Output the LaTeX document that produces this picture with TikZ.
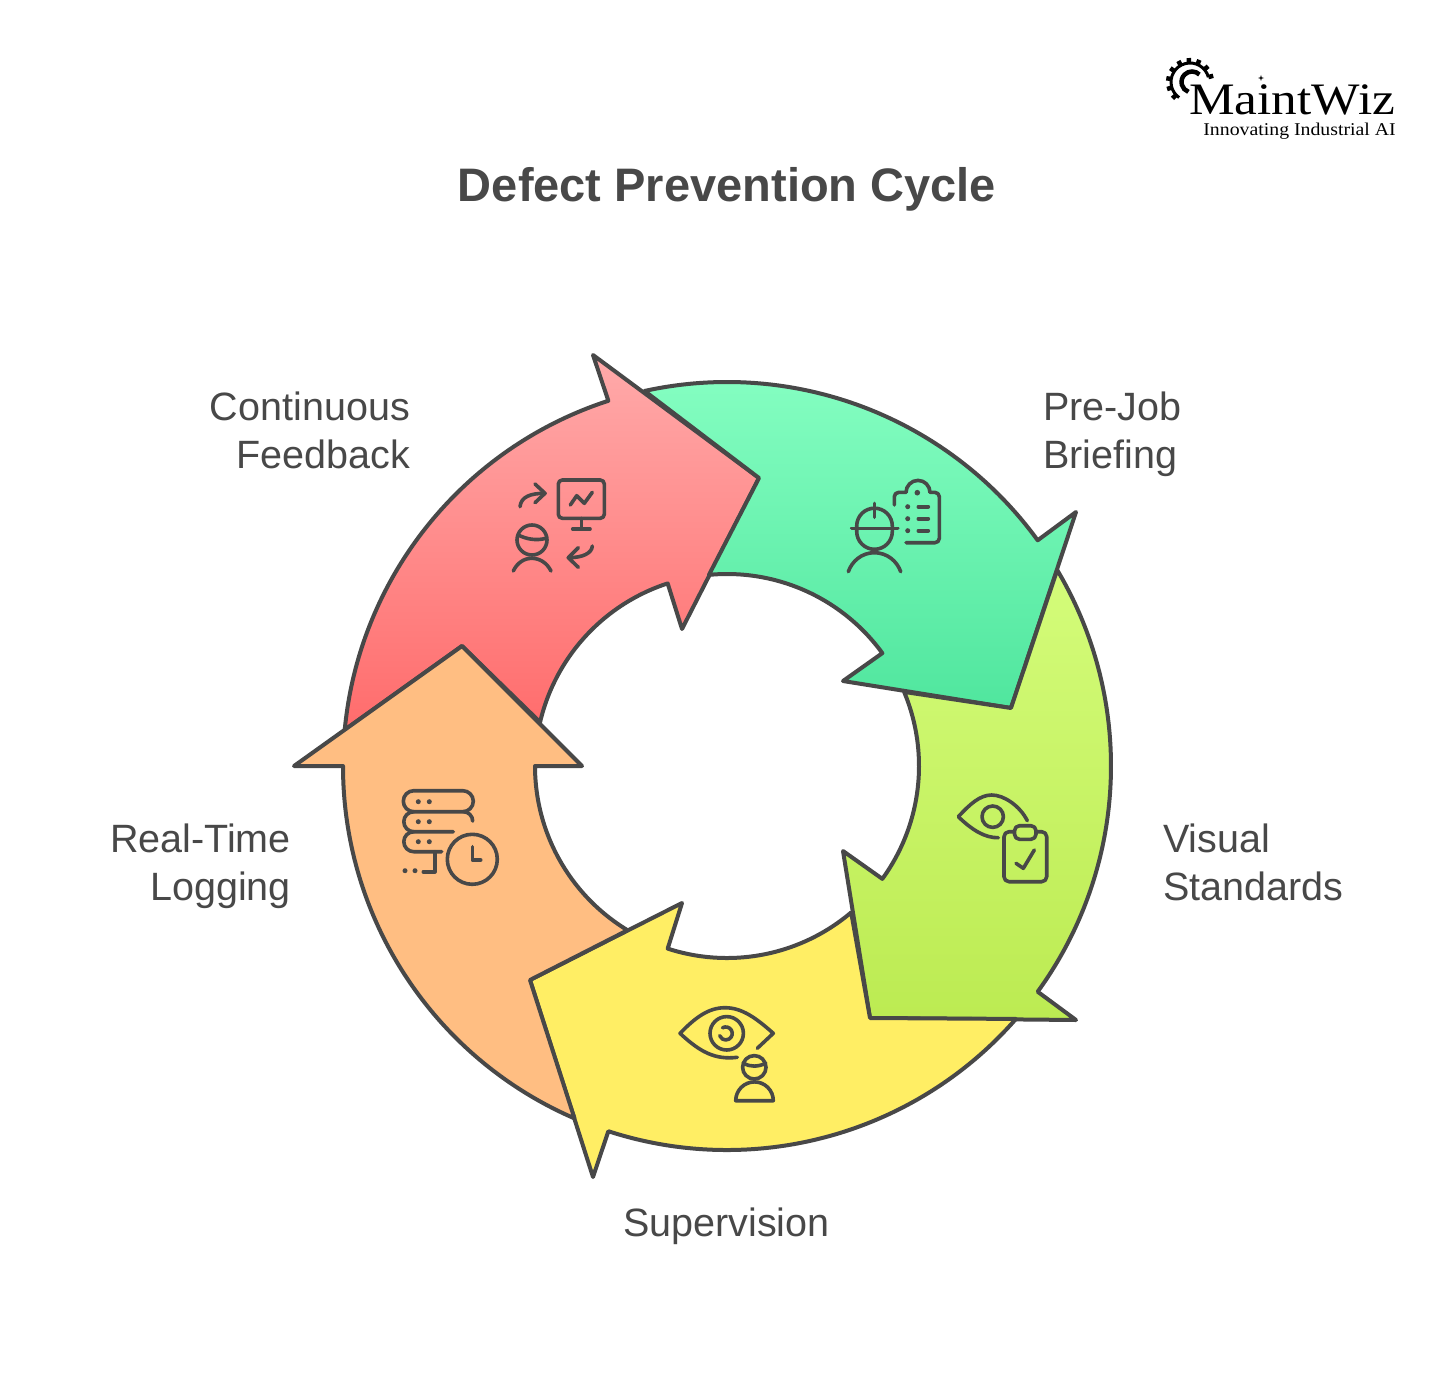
\documentclass[tikz,border=0pt]{standalone}
\usepackage{fontspec}
\setmainfont{Liberation Sans}
\newfontfamily\logofont[FakeStretch=1.14]{Liberation Serif}
\newfontfamily\logosubfont[FakeStretch=1.1]{Liberation Serif}
\definecolor{ink}{HTML}{484848}
\newcommand{\ptO}[1]{([shift={(727,766)}]#1:384)}
\newcommand{\ptI}[1]{([shift={(727,766)}]#1:192)}
\tikzset{
  wedge/.style={draw=ink,line width=4bp,line join=round},
  ic/.style={draw=ink,line width=3.6bp,line cap=round,line join=round},
  dotmark/.style={fill=ink,draw=none},
  label/.style={text=ink,inner sep=0pt,font=\fontsize{39.5bp}{48bp}\selectfont},
}
\begin{document}
\begin{tikzpicture}[x=1bp,y=-1bp]
\useasboundingbox (0,0) rectangle (1456,1400);
\fill[white] (0,0) rectangle (1456,1400);

% Arrows
\draw[wedge,top color={rgb,255:red,255;green,170;blue,170},bottom color={rgb,255:red,255;green,108;blue,108}]
  \ptO{185.4} arc[start angle=185.4,end angle=252,radius=384] -- (593,355) -- (759,478) -- (682,629) -- \ptI{252} arc[start angle=252,end angle=193.2,radius=192] -- (462,646) -- cycle;
\draw[wedge,top color={rgb,255:red,135;green,255;blue,195},bottom color={rgb,255:red,80;green,230;blue,158}]
  \ptO{-102.4} arc[start angle=-102.4,end angle=-36,radius=384] -- (1076,512) -- (1011,708) -- (843,681) -- \ptI{-36} arc[start angle=-36,end angle=-95.4,radius=192] -- (759,478) -- cycle;
\draw[wedge,top color={rgb,255:red,212;green,252;blue,122},bottom color={rgb,255:red,188;green,235;blue,82}]
  \ptO{-30.7} arc[start angle=-30.7,end angle=36,radius=384] -- (1076,1020) -- (870,1018) -- (843,851) -- \ptI{36} arc[start angle=36,end angle=-22.7,radius=192] -- (1011,708) -- cycle;
\draw[wedge,fill={rgb,255:red,255;green,238;blue,100}]
  \ptO{41.2} arc[start angle=41.2,end angle=108,radius=384] -- (593,1177) -- (530,980) -- (682,903) -- \ptI{108} arc[start angle=108,end angle=49.7,radius=192] -- (870,1018) -- cycle;
\draw[wedge,fill={rgb,255:red,255;green,190;blue,130}]
  (462,646) -- (294,766) -- (343,766) arc[start angle=180,end angle=113.4,radius=384] -- (530,980) -- \ptI{121.2} arc[start angle=121.2,end angle=180,radius=192] -- (582,766) -- cycle;

% Continuous Feedback icon
\draw[ic] (520,506.7) .. controls (521,497) and (530,493.3) .. (545,493.3);
\draw[ic] (535,484) -- (545,493.3) -- (535,502.7);
\draw[ic,rounded corners=4bp] (558.3,480) rectangle (604.3,518.3);
\draw[ic] (581.3,518.3) -- (581.3,529) (572.7,529) -- (590,529);
\draw[ic] (570.3,505) -- (576.7,495.7) -- (584.3,503.3) -- (592.3,492.3);
\draw[ic] (532,540) circle[radius=15];
\draw[ic] (518.3,535) .. controls (526,539) and (536,541) .. (546,538.3);
\draw[ic] (513.3,571) .. controls (517,563) and (524,558.3) .. (531.7,558.3) .. controls (540,558.3) and (547,563) .. (551,571);
\draw[ic] (592.3,546) .. controls (592,553) and (583,557.7) .. (568.3,557.7);
\draw[ic] (578.3,547.7) -- (568.3,557.7) -- (578.3,567.3);

% Pre-Job Briefing icon
\draw[ic] (906,542.7) -- (935,542.7) arc[start angle=90,end angle=0,radius=4.3] -- (939.3,496.7) arc[start angle=0,end angle=-90,radius=4.3] -- (930,492.4) arc[start angle=0,end angle=-180,radius=12] -- (898.6,492.4) arc[start angle=-90,end angle=-180,radius=4.3] -- (894.3,505);
\fill[dotmark] (917.3,492.7) circle[radius=2.8];
\foreach \yy in {506.7,518.7,530.7} {
  \fill[dotmark] (907.7,\yy) circle[radius=2.5];
  \draw[ic] (918.3,\yy) -- (928.3,\yy);
}
\draw[ic] (856.7,526) arc[start angle=180,end angle=360,radius=17.8] -- (892.3,531.5) arc[start angle=0,end angle=180,radius=17.8] -- cycle;
\draw[ic] (851.7,528.3) -- (897.7,528.3);
\draw[ic] (874.3,503.3) -- (874.3,517.3);
\draw[ic] (848.3,571.7) .. controls (852,561) and (862,552.7) .. (874.3,552.7) .. controls (887,552.7) and (897,561) .. (900.7,571.7);

% Visual Standards icon
\draw[ic] (998.3,837.7) .. controls (985,838) and (972,830) .. (958.3,816.7) .. controls (970,804) and (980,795) .. (991.7,795) .. controls (1004,795) and (1020,806) .. (1027.3,820.7);
\draw[ic] (992.7,816.7) circle[radius=10.7];
\draw[ic,rounded corners=5bp] (1014,831.7) -- (1004,831.7) -- (1004,881.7) -- (1046.7,881.7) -- (1046.7,831.7) -- (1036,831.7);
\draw[ic,rounded corners=5bp] (1014.5,825.7) rectangle (1036,839.3);
\draw[ic] (1016,863.3) -- (1023.3,868.3) -- (1034.3,850);

% Supervision icon
\draw[ic] (737.3,1057.3) .. controls (715,1060) and (700,1052) .. (680,1033.3) .. controls (695,1018) and (708,1007.7) .. (725,1007.7) .. controls (742,1007.7) and (756,1018) .. (773.3,1033.3) -- (757.3,1048.3);
\draw[ic] (726.7,1033.3) circle[radius=16.7];
\draw[ic] (722.5,1027.8) arc[start angle=-120,end angle=160,radius=6.5];
\draw[ic] (754.3,1067.3) circle[radius=11.7];
\draw[ic] (743.3,1063.3) .. controls (750,1067) and (758,1067) .. (765.7,1063.3);
\draw[ic] (735.7,1100.7) arc[start angle=180,end angle=360,radius=18.8] -- cycle;

% Real-Time Logging icon
\draw[ic] (413.8,790.7) -- (462.8,790.7) arc[start angle=-90,end angle=90,radius=10.5] -- (413.8,811.7) arc[start angle=90,end angle=270,radius=10.5];
\draw[ic] (413.8,811.7) arc[start angle=-90,end angle=-270,radius=10] -- (453.3,831.7);
\draw[ic] (463.3,811.7) arc[start angle=-90,end angle=0,radius=9.4];
\draw[ic] (413.8,831.7) arc[start angle=-90,end angle=-270,radius=10] -- (441.7,851.7);
\draw[ic] (435,851.7) -- (435,871.7) -- (423.3,871.7);
\foreach \yy in {801.7,821.7,841.7} {
  \fill[dotmark] (418.3,\yy) circle[radius=2.5];
  \fill[dotmark] (429.3,\yy) circle[radius=2.5];
}
\fill[dotmark] (405,870.7) circle[radius=2.5];
\fill[dotmark] (415,870.7) circle[radius=2.5];
\draw[ic] (472.3,859.3) circle[radius=25];
\draw[ic] (472.3,846.7) -- (472.3,860) -- (480.7,860);

% Labels
\node[text=ink,inner sep=0pt,anchor=base,font=\fontsize{47bp}{50bp}\selectfont\bfseries] (title) at (727,202) {Defect Prevention Cycle};
\node[label,anchor=east,align=right] (lfb) at (410,430.5) {Continuous\\Feedback};
\node[label,anchor=west,align=left] (lpj) at (1043,434) {Pre-Job\\Briefing};
\node[label,anchor=west,align=left] (lvs) at (1163,862.5) {Visual\\Standards};
\node[label,anchor=east,align=right] (lrt) at (291,866) {Real-Time\\Logging};
\node[label,anchor=base] (lsv) at (726.5,1236) {Supervision};

% Logo
\draw[black,line width=3bp] (1190,82) ++(-15:19) arc[start angle=-15,end angle=-235,radius=19];
\foreach \aa in {-15,-41,...,-235} {
  \draw[black,line width=4.5bp] ([shift={(1190,82)}]\aa:19) -- ([shift={(1190,82)}]\aa:24);
}
\draw[black,line width=4.5bp] (1192,82) ++(-45:10.5) arc[start angle=-45,end angle=-250,radius=10.5];
\node[inner sep=0pt,anchor=base west,text=black,font=\fontsize{45bp}{50bp}\logofont] (lg) at (1189,115) {MaintWiz};
\node[inner sep=0pt,anchor=base east,text=black,font=\fontsize{18bp}{20bp}\logosubfont] (lgs) at (1396,136) {Innovating Industrial AI};
\fill[black] (1261,75) -- (1261.7,77.3) -- (1264,78) -- (1261.7,78.7) -- (1261,81) -- (1260.3,78.7) -- (1258,78) -- (1260.3,77.3) -- cycle;
\end{tikzpicture}
\end{document}
